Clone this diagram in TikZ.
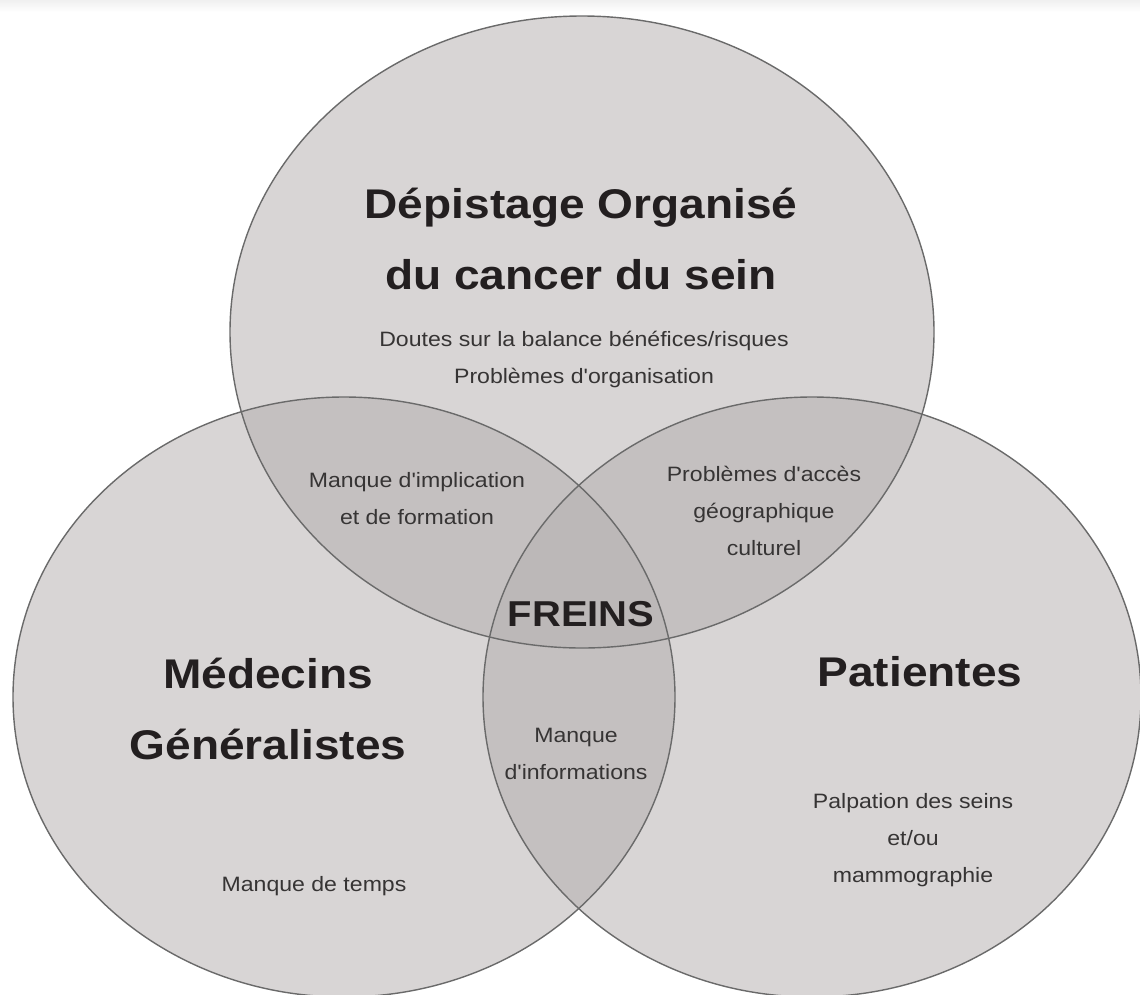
\documentclass[tikz,border=0pt]{standalone}
\usepackage{fontspec}
\newfontfamily\libsans{Liberation Sans}[FakeStretch=1.11]
\definecolor{snglfill}{HTML}{D8D5D5}
\definecolor{dblfill}{HTML}{C4C0C0}
\definecolor{trplfill}{HTML}{BCB8B8}
\definecolor{edgecol}{HTML}{6A6A6A}
\definecolor{ink}{HTML}{231F20}
\definecolor{inksmall}{HTML}{363434}
\tikzset{
  setline/.style={draw=edgecol, line width=1.4pt},
  bigtext/.style={font=\libsans\fontsize{41.5}{71}\selectfont\bfseries, text=ink, align=center, inner sep=0pt},
  freinstext/.style={font=\libsans\fontsize{36}{40}\selectfont\bfseries, text=ink, align=center, inner sep=0pt},
  smalltext/.style={font=\libsans\fontsize{20.8}{37}\selectfont, text=inksmall, align=center, inner sep=0pt},
}
\begin{document}
\begin{tikzpicture}[x=1pt,y=-1pt]
\useasboundingbox (0,0) rectangle (1140,994);
\clip (0,0) rectangle (1140,994);
\fill[white] (0,0) rectangle (1140,994);
\shade[top color=black!6, bottom color=white] (0,0) rectangle (1140,12);
% coordinates of the centres
\coordinate (T) at (582,332);
\coordinate (L) at (344,697);
\coordinate (R) at (812,697);
\def\topell{(T) ellipse [x radius=352pt, y radius=316pt]}
\def\leftell{(L) ellipse [x radius=331pt, y radius=300pt]}
\def\rightell{(R) ellipse [x radius=329pt, y radius=300pt]}
% single fills
\fill[snglfill] \topell;
\fill[snglfill] \leftell;
\fill[snglfill] \rightell;
% double overlaps
\begin{scope}
  \clip \topell;
  \fill[dblfill] \leftell;
  \fill[dblfill] \rightell;
\end{scope}
\begin{scope}
  \clip \leftell;
  \fill[dblfill] \rightell;
\end{scope}
% triple overlap
\begin{scope}
  \clip \topell;
  \clip \leftell;
  \fill[trplfill] \rightell;
\end{scope}
% outlines
\draw[setline] \topell;
\draw[setline] \leftell;
\draw[setline] \rightell;
% texts
\node[bigtext] (dep) at (581,239) {Dépistage Organisé\\du cancer du sein};
\node[smalltext] (doutes) at (584,359) {Doutes sur la balance bénéfices/risques\\Problèmes d'organisation};
\node[smalltext] (impl) at (417,499) {Manque d'implication\\et de formation};
\node[smalltext] (acces) at (764,511) {Problèmes d'accès\\géographique\\culturel};
\node[freinstext] (freins) at (581,614) {FREINS};
\node[bigtext] (med) at (268,709) {Médecins\\Généralistes};
\node[bigtext] (pat) at (920,672) {Patientes};
\node[smalltext] (info) at (576,754) {Manque\\d'informations};
\node[smalltext] (palp) at (913,840) {Palpation des seins\\et/ou\\mammographie};
\node[smalltext] (temps) at (314,886) {Manque de temps};
\end{tikzpicture}
\end{document}
